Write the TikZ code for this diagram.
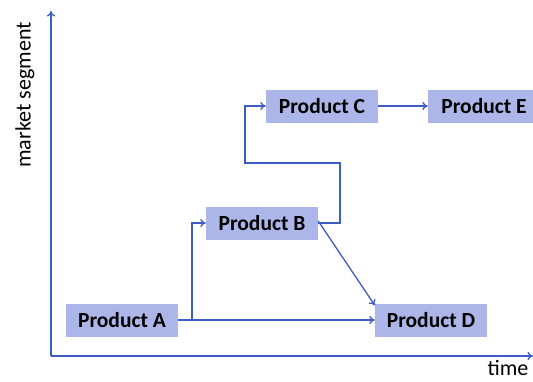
\documentclass[tikz,border=0pt]{standalone}
\usepackage{fontspec}
\setmainfont{Carlito}
\usetikzlibrary{arrows.meta}
\definecolor{boxfill}{RGB}{172,182,232}
\definecolor{linkblue}{RGB}{62,92,200}
\begin{document}
\begin{tikzpicture}[x=1pt,y=-1pt,
  product/.style={fill=boxfill, minimum width=112pt, minimum height=33pt,
    inner sep=0pt, font=\fontsize{21.5}{23}\selectfont\bfseries},
  link/.style={draw=linkblue, line width=1.3pt, -{To[length=5.5pt,width=8pt]}},
  axis/.style={draw=linkblue, line width=1.3pt, -{To[length=5.5pt,width=8pt]}},
  lbl/.style={font=\fontsize{22}{24}\selectfont, inner sep=0pt}]
\useasboundingbox (0,0) rectangle (533,381);

% axes
\coordinate (origin) at (51,356);
\coordinate (ytop) at (51,11);
\coordinate (xend) at (533,356);
\draw[axis] (origin) -- (ytop);
\draw[axis] (origin) -- (xend);
\node[lbl, rotate=90] (ylabel) at (25,95) {market segment};
\node[lbl] (xlabel) at (508,368) {time};

% products
\node[product] (A) at (122,320) {Product A};
\node[product] (B) at (262,223) {Product B};
\node[product] (C) at (322,106) {Product C};
\node[product] (D) at (431,320) {Product D};
\node[product] (E) at (484,106) {Product E};

% connectors
\coordinate (split) at (192,320);
\draw[link] (A.east) -- (D.west);
\draw[link] (split) |- (B.west);
\draw[link] (B.east) -- (340,223) -- (340,163) -- (245,163) |- (C.west);
\draw[link] ([yshift=2pt]B.east) -- ([yshift=-2pt]D.north west);
\draw[link] (C.east) -- (E.west);
\end{tikzpicture}
\end{document}
